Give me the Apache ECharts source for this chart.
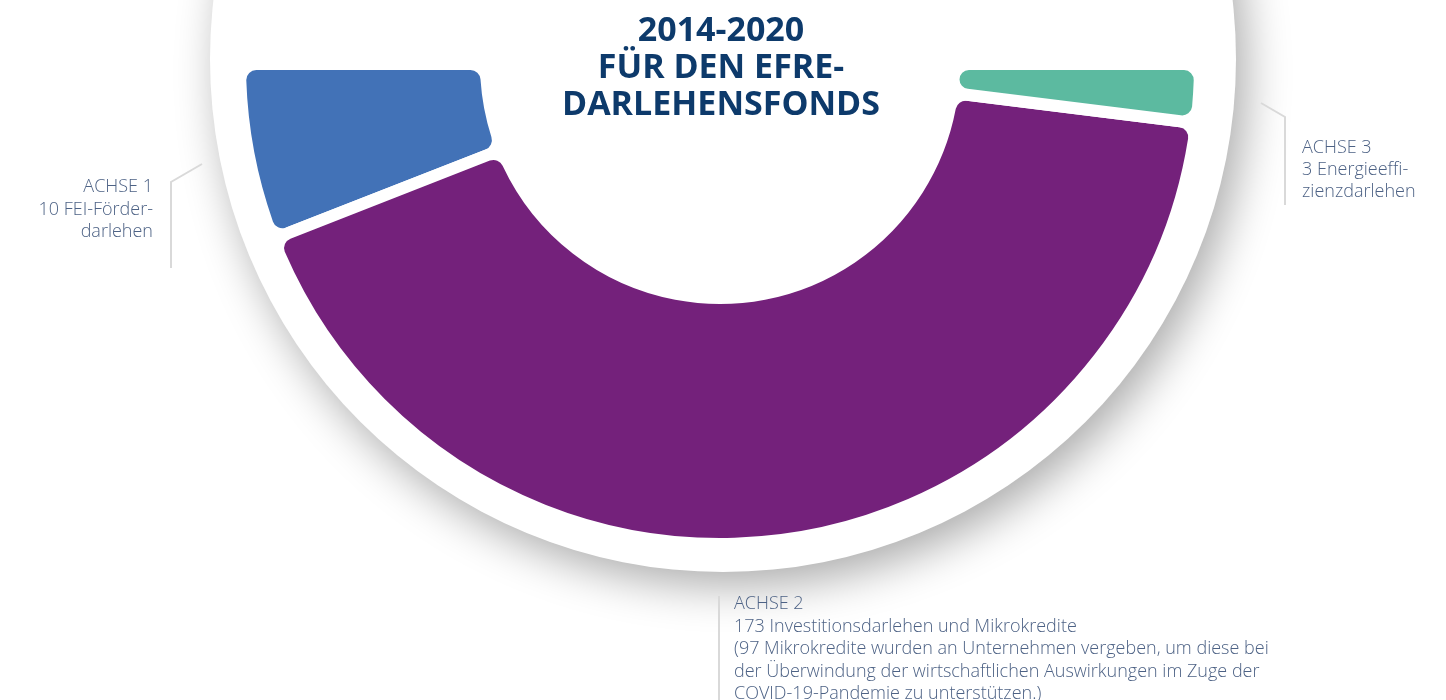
<!DOCTYPE html>
<html><head><meta charset="utf-8">
<script src="https://cdn.jsdelivr.net/npm/echarts@6/dist/echarts.min.js"></script>
<style>html,body{margin:0;padding:0;background:#fff}#c{width:1446px;height:700px}</style>
</head><body><div id="c"></div>
<script>
// ---- data ----
const categories = ['ACHSE 1', 'ACHSE 2', 'ACHSE 3'];
const loanCounts = [10, 173, 3];
const loanTexts = [
  'FEI-Förder-\ndarlehen',
  'Investitionsdarlehen und Mikrokredite\n(97 Mikrokredite wurden an Unternehmen vergeben, um diese bei\nder Überwindung der wirtschaftlichen Auswirkungen im Zuge der\nCOVID-19-Pandemie zu unterstützen.)',
  'Energieeffi-\nzienzdarlehen'
];
// angular share (degrees of the lower half circle) as drawn in the picture
const arcShare = [21.4, 151.5, 7.1];
const hiddenHalf = 180;
const titleLines = ['2014-2020', 'FÜR DEN EFRE-', 'DARLEHENSFONDS'];

// ---- styles ----
const colors = ['#4272b7', '#74217b', '#5cbaa0'];
const labelFont = '300 18px "Open Sans"';
const labelColor = '#4d6285';
const leaderColor = '#d9d9d9';

const chart = echarts.init(document.getElementById('c'), null, {renderer: 'canvas'});

const sliceData = categories.map((c, i) => ({
  name: c, value: arcShare[i], itemStyle: {color: colors[i]}
}));
sliceData.push({name: '', value: hiddenHalf, itemStyle: {color: 'rgba(0,0,0,0)', borderWidth: 0}});

const labelText = i => categories[i] + '\n' + loanCounts[i] + ' ' + loanTexts[i];

chart.setOption({
  animation: false,
  backgroundColor: '#ffffff',
  series: [
    {
      type: 'pie', center: [723, 59], radius: [0, 513], silent: true, z: 1,
      label: {show: false}, labelLine: {show: false},
      data: [{value: 1, itemStyle: {color: '#ffffff', shadowBlur: 45, shadowColor: 'rgba(0,0,0,0.33)', shadowOffsetX: 10, shadowOffsetY: 14}}]
    },
    {
      type: 'pie', center: [720, 64], radius: [234, 480], startAngle: 180, clockwise: false,
      silent: true, z: 2, avoidLabelOverlap: false,
      label: {show: false}, labelLine: {show: false},
      itemStyle: {borderColor: '#ffffff', borderWidth: 12, borderRadius: 16},
      data: sliceData
    }
  ],
  graphic: [
    {
      type: 'text', x: 721, y: 13, z: 10,
      style: {text: titleLines.join('\n'), font: 'bold 34px "Open Sans"', fill: '#0d3a6b',
        textAlign: 'center', textVerticalAlign: 'top', lineHeight: 37}
    },
    {
      type: 'text', x: 153, y: 176, z: 10,
      style: {text: labelText(0), font: labelFont, fill: labelColor, textAlign: 'right', textVerticalAlign: 'top', lineHeight: 22.5}
    },
    {
      type: 'text', x: 1302, y: 137, z: 10,
      style: {text: labelText(2), font: labelFont, fill: labelColor, textAlign: 'left', textVerticalAlign: 'top', lineHeight: 22}
    },
    {
      type: 'text', x: 734, y: 593, z: 10,
      style: {text: labelText(1), font: labelFont, fill: labelColor, textAlign: 'left', textVerticalAlign: 'top', lineHeight: 22.5}
    },
    {
      type: 'polyline', z: 9,
      shape: {points: [[202, 164], [171, 182], [171, 268]]},
      style: {stroke: leaderColor, lineWidth: 2, fill: null}
    },
    {
      type: 'polyline', z: 9,
      shape: {points: [[1261, 103], [1285, 117], [1285, 205]]},
      style: {stroke: leaderColor, lineWidth: 2, fill: null}
    },
    {
      type: 'polyline', z: 9,
      shape: {points: [[719, 596], [719, 700]]},
      style: {stroke: leaderColor, lineWidth: 2, fill: null}
    }
  ]
});
</script></body></html>
